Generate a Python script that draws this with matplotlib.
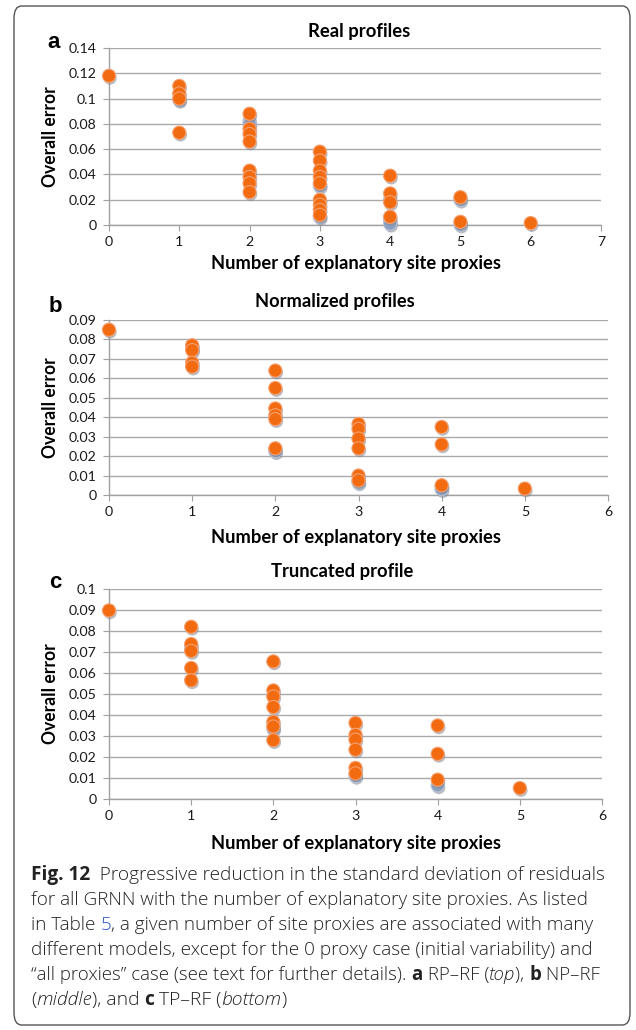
import matplotlib
matplotlib.use("Agg")
import matplotlib.pyplot as plt
from matplotlib.patches import FancyBboxPatch
import matplotlib.patheffects as pe

plt.rcParams['font.family'] = ['Lato', 'DejaVu Sans']

# ---------------- data ----------------
a_orange_x = [0, 1, 1, 1, 1, 2, 2, 2, 2, 2, 2, 2, 2, 3, 3, 3, 3, 3, 3, 3, 3, 3, 4, 4, 4, 4, 5, 5, 6]
a_orange_y = [0.118, 0.110, 0.104, 0.100, 0.073, 0.088, 0.076, 0.072, 0.066, 0.043, 0.038, 0.033, 0.026,
              0.058, 0.051, 0.043, 0.038, 0.033, 0.020, 0.016, 0.012, 0.008, 0.039, 0.025, 0.018, 0.0065,
              0.022, 0.0025, 0.0015]
a_gray_x = [1, 2, 2, 3, 3, 4, 4, 4, 5, 5]
a_gray_y = [0.099, 0.082, 0.080, 0.031, 0.0065, 0.020, 0.003, 0.001, 0.020, 0.0003]

b_orange_x = [0, 1, 1, 1, 1, 2, 2, 2, 2, 2, 2, 3, 3, 3, 3, 3, 3, 4, 4, 4, 5]
b_orange_y = [0.085, 0.077, 0.0745, 0.068, 0.066, 0.064, 0.055, 0.0445, 0.041, 0.039, 0.024,
              0.0365, 0.034, 0.029, 0.024, 0.010, 0.0075, 0.035, 0.026, 0.005, 0.0033]
b_gray_x = [1, 2, 3, 4, 4]
b_gray_y = [0.0755, 0.0225, 0.0065, 0.0045, 0.003]

c_orange_x = [0, 1, 1, 1, 1, 1, 2, 2, 2, 2, 2, 2, 2, 3, 3, 3, 3, 3, 3, 4, 4, 4, 5]
c_orange_y = [0.0898, 0.082, 0.0738, 0.0705, 0.0624, 0.0565, 0.0655, 0.0517, 0.0488, 0.0438, 0.0367,
              0.0345, 0.028, 0.0362, 0.0305, 0.0283, 0.0235, 0.0148, 0.0122, 0.035, 0.0215, 0.0092, 0.0052]
c_gray_x = [1, 2, 3, 4]
c_gray_y = [0.072, 0.0335, 0.011, 0.0065]

titles = ["Real profiles", "Normalized profiles", "Truncated profile"]
letters = ["a", "b", "c"]
xlabel = "Number of explanatory site proxies"
ylabel = "Overall error"
ymaxs = [0.14, 0.09, 0.1]
ysteps = [0.02, 0.01, 0.01]
xmaxs = [7, 6, 6]
ytick_labels = [
    ["0", "0.02", "0.04", "0.06", "0.08", "0.1", "0.12", "0.14"],
    ["0", "0.01", "0.02", "0.03", "0.04", "0.05", "0.06", "0.07", "0.08", "0.09"],
    ["0", "0.01", "0.02", "0.03", "0.04", "0.05", "0.06", "0.07", "0.08", "0.09", "0.1"],
]

panels = [(a_orange_x, a_orange_y, a_gray_x, a_gray_y),
          (b_orange_x, b_orange_y, b_gray_x, b_gray_y),
          (c_orange_x, c_orange_y, c_gray_x, c_gray_y)]

W, H = 636, 1030
fig = plt.figure(figsize=(W / 100, H / 100), dpi=100)
renderer = fig.canvas.get_renderer()


def text_width(txt, fs, **kw):
    t = fig.text(0, 0, txt, fontsize=fs, **kw)
    w = t.get_window_extent(renderer=renderer).width
    t.remove()
    return w


def fit_fs(txt, target, base=12, **kw):
    return base * target / text_width(txt, base, **kw)


# border box
box = FancyBboxPatch((14 / W, 5 / H), 616 / W, 1019 / H, boxstyle="round,pad=0,rounding_size=0.012",
                     transform=fig.transFigure, fill=False, edgecolor="#555555", linewidth=1.0)
fig.patches.append(box)

# axes positions in pixels: left, right, top, bottom
pos = [(109, 601, 48, 225), (109, 608, 320, 495), (109, 602, 589, 799)]
title_xy = [(359, 31), (335, 301), (342, 572)]
title_w = [102, 159, 141]
xlabel_xy = [(356, 263), (356, 537), (356, 844)]
letter_pos = [(54, 42), (55, 306), (55, 582)]

ORANGE = "#f26b10"
GRAY = "#8d9fbf"
shadow = [pe.SimplePatchShadow(offset=(0.8, -1.6), shadow_rgbFace="#7f8796", alpha=0.55), pe.Normal()]

BOLD = dict(fontweight="bold")
fs_tick = fit_fs("0.14", 28, 10)
fs_xl = fit_fs(xlabel, 288, 12, **BOLD)
fs_yl = fit_fs(ylabel, 100, 12, **BOLD)

for i, (ox, oy, gx, gy) in enumerate(panels):
    l, r, t, b = pos[i]
    ax = fig.add_axes([l / W, 1 - b / H, (r - l) / W, (b - t) / H])
    ax.set_xlim(0, xmaxs[i])
    ax.set_ylim(0, ymaxs[i])
    nt = len(ytick_labels[i])
    yt = [k * ysteps[i] for k in range(nt)]
    ax.set_yticks(yt)
    ax.set_yticklabels(ytick_labels[i])
    ax.set_xticks(range(xmaxs[i] + 1))
    ax.grid(axis="y", color="#a9a9a9", linewidth=1.0)
    ax.set_axisbelow(True)
    for s in ["top", "right"]:
        ax.spines[s].set_visible(False)
    for s in ["left", "bottom"]:
        ax.spines[s].set_color("#a0a0a0")
        ax.spines[s].set_linewidth(1.0)
    ax.tick_params(axis="both", direction="out", color="#a0a0a0", length=4, labelsize=fs_tick,
                   labelcolor="#1a1a1a", pad=5)
    ax.tick_params(axis="x", pad=4)
    ax.scatter(gx, gy, s=90, color=GRAY, edgecolors="#b8c3d6", linewidths=0.8, zorder=3,
               clip_on=False, path_effects=shadow)
    ax.scatter(ox, oy, s=90, color=ORANGE, edgecolors="#f5a070", linewidths=0.8, zorder=4,
               clip_on=False, path_effects=shadow)
    ax.yaxis.set_label_coords(-(l - 50) / (r - l), 0.46)
    ax.set_ylabel(ylabel, fontsize=fs_yl, fontweight="bold", va="center")
    tx, ty = title_xy[i]
    fig.text(tx / W, 1 - ty / H, titles[i], ha="center", va="center",
             fontsize=fit_fs(titles[i], title_w[i], 12, **BOLD), **BOLD)
    xx, xy = xlabel_xy[i]
    fig.text(xx / W, 1 - xy / H, xlabel, ha="center", va="center", fontsize=fs_xl, **BOLD)
    lx, ly = letter_pos[i]
    fig.text(lx / W, 1 - ly / H, letters[i], ha="center", va="center", fontsize=16,
             fontweight="bold", family=["Liberation Sans", "DejaVu Sans"])

# caption
cap_x = 31
cap_lines_y = [875, 900, 925, 950, 975, 1000]
cap_line_end = [603, 587, 593, 590, 598, 285]
cf = ["Open Sans", "DejaVu Sans"]


def line(y, parts, target):
    tot = 0
    for txt, kw in parts:
        k2 = {k: v for k, v in kw.items() if k != "color"}
        tot += text_width(txt, 13, family=cf, **k2)
    fs = 13 * (target - cap_x) / tot
    x = cap_x
    for txt, kw in parts:
        opts = dict(ha="left", va="center", fontsize=fs, family=cf, color="#222222")
        opts.update(kw)
        t = fig.text(x / W, 1 - y / H, txt, **opts)
        x += t.get_window_extent(renderer=renderer).width


L = dict(fontweight="light")
B = dict(fontweight="bold")
I = dict(fontweight="light", style="italic")
line(cap_lines_y[0], [("Fig. 12", B),
                      ("  Progressive reduction in the standard deviation of residuals", L)], cap_line_end[0])
line(cap_lines_y[1], [("for all GRNN with the number of explanatory site proxies. As listed", L)], cap_line_end[1])
line(cap_lines_y[2], [("in Table ", L), ("5", dict(fontweight="light", color="#2a55c8")),
                      (", a given number of site proxies are associated with many", L)], cap_line_end[2])
line(cap_lines_y[3], [("different models, except for the 0 proxy case (initial variability) and", L)], cap_line_end[3])
line(cap_lines_y[4], [("\u201call proxies\u201d case (see text for further details). ", L),
                      ("a", B), (" RP\u2013RF (", L), ("top", I), ("), ", L),
                      ("b", B), (" NP\u2013RF", L)], cap_line_end[4])
line(cap_lines_y[5], [("(", L), ("middle", I), ("), and ", L), ("c", B),
                      (" TP\u2013RF (", L), ("bottom", I), (")", L)], cap_line_end[5])

fig.savefig("out.png", dpi=100)
